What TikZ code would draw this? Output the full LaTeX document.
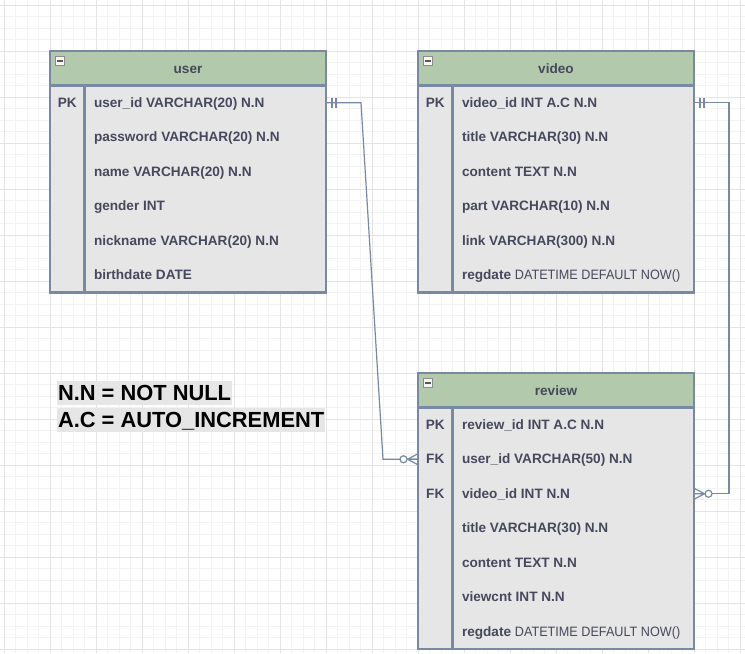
\documentclass[tikz,border=0pt]{standalone}
\usepackage{fontspec}
\setmainfont{Liberation Sans}
\newfontfamily\narrowsans[FakeStretch=0.93]{Liberation Sans}
\usetikzlibrary{calc}
\definecolor{erline}{HTML}{788AA3}
\definecolor{erhead}{HTML}{B2C9AB}
\definecolor{erbody}{HTML}{E6E6E6}
\definecolor{ertext}{HTML}{46495D}
\definecolor{gridminor}{HTML}{F3F3F3}
\definecolor{gridmajor}{HTML}{E4E4E4}
\tikzset{every node/.style={font=\fontsize{10.2}{12}\selectfont\bfseries,text=ertext,inner sep=0pt,outer sep=0pt},
  rel/.style={draw=erline,line width=0.9pt},
  pics/mandone/.style={code={\draw[rel] (6,-5) -- (6,5) (10,-5) -- (10,5);}},
  pics/zeromany/.style={code={
    \draw[rel] (10.5,0) -- (0,-5.5) (10.5,0) -- (0,0) (10.5,0) -- (0,5.5);
    \draw[rel,fill=white] (14.5,0) circle[radius=3.5];}}}
\newcommand{\fN}{\narrowsans\fontsize{10.2}{12}\selectfont\mdseries}
\newcommand{\fL}{\fontsize{16.4}{19}\selectfont\bfseries}

\begin{document}
\begin{tikzpicture}[x=0.75pt,y=-0.75pt,
    entity/.style={draw=erline,fill=erbody,line width=1.6pt,anchor=north west,minimum width=207pt},
    enthead/.style={entity,fill=erhead,minimum height=25.875pt,text height=7.5pt,text depth=0pt},
    divider/.style={draw=erline,line width=1.6pt},
    field/.style={anchor=west,text height=7.5pt,text depth=0.75pt},
    keyfield/.style={field,anchor=center},
    minbtn/.style={draw=black!45,fill=black!4,line width=0.75pt,minimum size=7pt,
      path picture={\fill[black!65] ($(path picture bounding box.west)+(1pt,0.75pt)$)
        rectangle ($(path picture bounding box.east)+(-1pt,-0.75pt)$);}},
    legend/.style={anchor=base west,fill=erbody,text=black,font=\fL,
      text height=14.5pt,text depth=3.5pt,inner xsep=0.75pt}]
  \path[use as bounding box,fill=white] (0,0) rectangle (745,653);

  % background grid: 11.5px cells, heavier line every 4 cells
  \foreach \k in {0,...,64} \draw[gridminor,line width=0.75pt] ({4+11.5*\k},0) -- ({4+11.5*\k},653);
  \foreach \k in {0,...,56} \draw[gridminor,line width=0.75pt] (0,{5+11.5*\k}) -- (745,{5+11.5*\k});
  \foreach \k in {0,...,16} \draw[gridmajor,line width=0.75pt] ({4+46*\k},0) -- ({4+46*\k},653);
  \foreach \k in {0,...,14} \draw[gridmajor,line width=0.75pt] (0,{5+46*\k}) -- (745,{5+46*\k});

  % user table
  \node[entity,minimum height=181.125pt] (user) at (50,51) {};
  \node[enthead] (userhead) at (50,51) {user};
  \draw[divider] ($(userhead.south west)+(34.5,0)$) -- ($(user.south west)+(34.5,0)$);
  \node[minbtn] (usermin) at (60,61) {};
  \node[keyfield] (ukey) at (67.25,102.75) {PK};
  \node[field] (u1) at (94,102.75) {user\_id VARCHAR(20) N.N};
  \node[field] (u2) at (94,137.25) {password VARCHAR(20) N.N};
  \node[field] (u3) at (94,171.75) {name VARCHAR(20) N.N};
  \node[field] (u4) at (94,206.25) {gender INT};
  \node[field] (u5) at (94,240.75) {nickname VARCHAR(20) N.N};
  \node[field] (u6) at (94,275.25) {birthdate DATE};

  % video table
  \node[entity,minimum height=181.125pt] (video) at (418,51) {};
  \node[enthead] (videohead) at (418,51) {video};
  \draw[divider] ($(videohead.south west)+(34.5,0)$) -- ($(video.south west)+(34.5,0)$);
  \node[minbtn] (videomin) at (428,61) {};
  \node[keyfield] (vkey) at (435.25,102.75) {PK};
  \node[field] (v1) at (462,102.75) {video\_id INT A.C N.N};
  \node[field] (v2) at (462,137.25) {title VARCHAR(30) N.N};
  \node[field] (v3) at (462,171.75) {content TEXT N.N};
  \node[field] (v4) at (462,206.25) {part VARCHAR(10) N.N};
  \node[field] (v5) at (462,240.75) {link VARCHAR(300) N.N};
  \node[field] (v6) at (462,275.25) {regdate {\fN DATETIME DEFAULT NOW()}};

  % review table
  \node[entity,minimum height=207pt] (review) at (418,373) {};
  \node[enthead] (reviewhead) at (418,373) {review};
  \draw[divider] ($(reviewhead.south west)+(34.5,0)$) -- ($(review.south west)+(34.5,0)$);
  \node[minbtn] (reviewmin) at (428,383) {};
  \node[keyfield] (rkey1) at (435.25,424.75) {PK};
  \node[keyfield] (rkey2) at (435.25,459.25) {FK};
  \node[keyfield] (rkey3) at (435.25,493.75) {FK};
  \node[field] (r1) at (462,424.75) {review\_id INT A.C N.N};
  \node[field] (r2) at (462,459.25) {user\_id VARCHAR(50) N.N};
  \node[field] (r3) at (462,493.75) {video\_id INT N.N};
  \node[field] (r4) at (462,528.25) {title VARCHAR(30) N.N};
  \node[field] (r5) at (462,562.75) {content TEXT N.N};
  \node[field] (r6) at (462,597.25) {viewcnt INT N.N};
  \node[field] (r7) at (462,631.75) {regdate {\fN DATETIME DEFAULT NOW()}};

  % relations
  \draw[rel] (user.east |- u1) -- ++(35,0) -- ($(review.west |- r2)+(-35,0)$) -- (review.west |- r2);
  \pic at (user.east |- u1) {mandone};
  \pic[xscale=-1] at (review.west |- r2) {zeromany};
  \draw[rel] (video.east |- v1) -- ++(35,0) -- ($(review.east |- r3)+(35,0)$) -- (review.east |- r3);
  \pic at (video.east |- v1) {mandone};
  \pic at (review.east |- r3) {zeromany};

  % legend
  \node[legend] (nnote) at (57,400) {N.N = NOT NULL};
  \node[legend] (acnote) at (57,427.3) {A.C = AUTO\_INCREMENT};
\end{tikzpicture}
\end{document}
